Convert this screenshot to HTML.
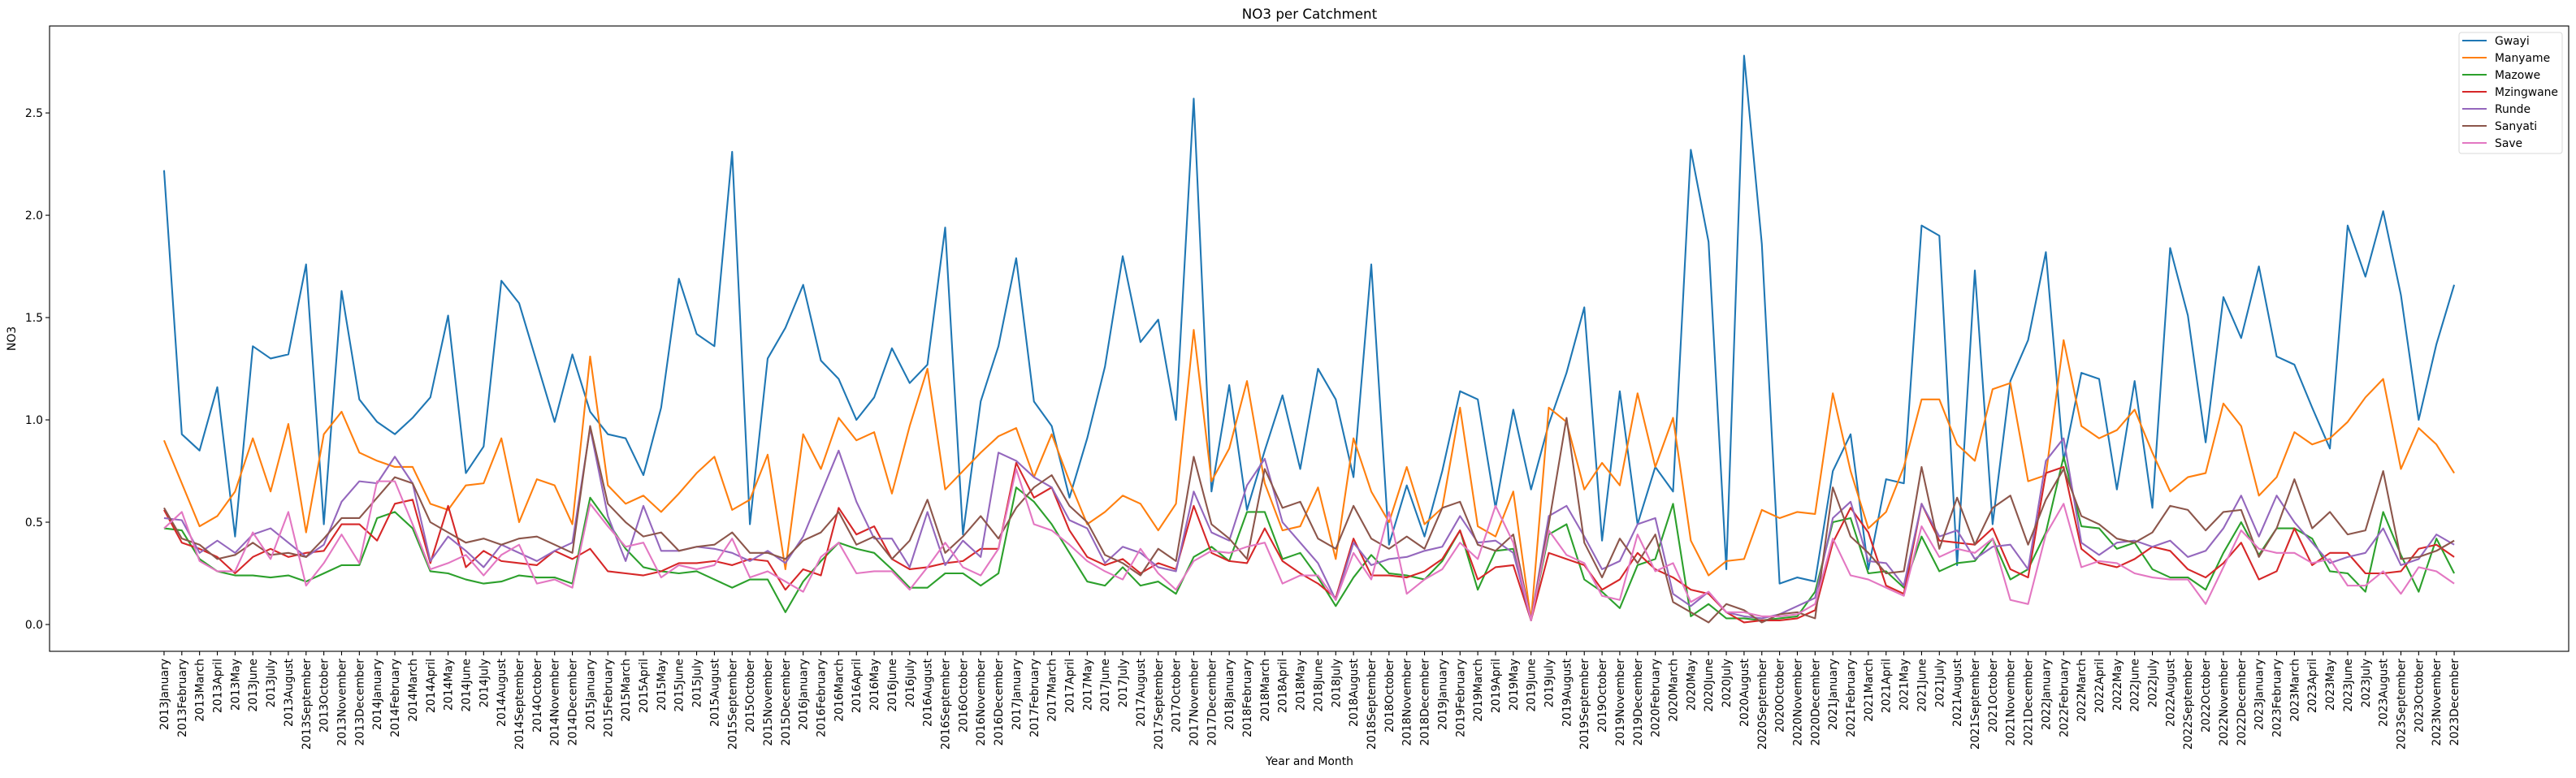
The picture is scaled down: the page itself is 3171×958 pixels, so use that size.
<!DOCTYPE html>
<html><head><meta charset="utf-8"><title>NO3 per Catchment</title>
<style>
html,body{margin:0;padding:0;background:#fff;}
svg text{font-family:"DejaVu Sans","Liberation Sans",sans-serif;fill:#000;}
</style></head>
<body>
<svg id="chart" width="3171" height="953" viewBox="0 0 3171 953" xmlns="http://www.w3.org/2000/svg">
<rect x="0" y="0" width="3171" height="953" fill="#fff"/>
<text x="1612" y="23" text-anchor="middle" font-size="16.7">NO3 per Catchment</text>
<g id="plot"></g>
<text x="1612" y="942" text-anchor="middle" font-size="13.9">Year and Month</text>
<text transform="translate(19,417) rotate(-90)" text-anchor="middle" font-size="13.9">NO3</text>
</svg>
<script>
const categories = ["2013January","2013February","2013March","2013April","2013May","2013June","2013July","2013August","2013September","2013October","2013November","2013December",
"2014January","2014February","2014March","2014April","2014May","2014June","2014July","2014August","2014September","2014October","2014November","2014December",
"2015January","2015February","2015March","2015April","2015May","2015June","2015July","2015August","2015September","2015October","2015November","2015December",
"2016January","2016February","2016March","2016April","2016May","2016June","2016July","2016August","2016September","2016October","2016November","2016December",
"2017January","2017February","2017March","2017April","2017May","2017June","2017July","2017August","2017September","2017October","2017November","2017December",
"2018January","2018February","2018March","2018April","2018May","2018June","2018July","2018August","2018September","2018October","2018November","2018December",
"2019January","2019February","2019March","2019April","2019May","2019June","2019July","2019August","2019September","2019October","2019November","2019December",
"2020February","2020March","2020May","2020June","2020July","2020August","2020September","2020October","2020November","2020December",
"2021January","2021February","2021March","2021April","2021May","2021June","2021July","2021August","2021September","2021October","2021November","2021December",
"2022January","2022February","2022March","2022April","2022May","2022June","2022July","2022August","2022September","2022October","2022November","2022December",
"2023January","2023February","2023March","2023April","2023May","2023June","2023July","2023August","2023September","2023October","2023November","2023December"];

const gwayi = [2.22,0.93,0.85,1.16,0.43,1.36,1.30,1.32,1.76,0.49,1.63,1.10,0.99,0.93,1.01,1.11,1.51,0.74,0.87,1.68,1.57,1.28,0.99,1.32,1.04,0.93,0.91,0.73,
1.06,1.69,1.42,1.36,2.31,0.49,1.30,1.45,1.66,1.29,1.20,1.00,1.11,1.35,1.18,1.27,1.94,0.44,1.09,1.36,1.79,1.09,0.97,0.62,0.91,1.26,1.80,1.38,
1.49,1.00,2.57,0.65,1.17,0.56,0.85,1.12,0.76,1.25,1.10,0.72,1.76,0.39,0.68,0.43,0.75,1.14,1.10,0.57,1.05,0.66,0.98,1.23,1.55,0.41,1.14,0.49,
0.77,0.65,2.32,1.87,0.27,2.78,1.86,0.20,0.23,0.21,0.75,0.93,0.27,0.71,0.69,1.95,1.90,0.29,1.73,0.49,1.19,1.39,1.82,0.80,1.23,1.20,0.66,1.19,
0.57,1.84,1.51,0.89,1.60,1.40,1.75,1.31,1.27,1.06,0.86,1.95,1.70,2.02,1.61,1.00,1.37,1.66];
const manyame = [0.90,0.69,0.48,0.53,0.65,0.91,0.65,0.98,0.45,0.93,1.04,0.84,0.80,0.77,0.77,0.59,0.56,0.68,0.69,0.91,0.50,0.71,0.68,0.49,1.31,0.68,0.59,0.63,
0.55,0.64,0.74,0.82,0.56,0.61,0.83,0.27,0.93,0.76,1.01,0.90,0.94,0.64,0.97,1.25,0.66,0.75,0.84,0.92,0.96,0.72,0.93,0.70,0.49,0.55,0.63,0.59,
0.46,0.59,1.44,0.70,0.86,1.19,0.69,0.46,0.48,0.67,0.32,0.91,0.65,0.50,0.77,0.49,0.57,1.06,0.48,0.43,0.65,0.02,1.06,0.99,0.66,0.79,0.68,1.13,
0.77,1.01,0.41,0.24,0.31,0.32,0.56,0.52,0.55,0.54,1.13,0.75,0.47,0.55,0.77,1.10,1.10,0.88,0.80,1.15,1.18,0.70,0.73,1.39,0.97,0.91,0.95,1.05,
0.84,0.65,0.72,0.74,1.08,0.97,0.63,0.72,0.94,0.88,0.91,0.99,1.11,1.20,0.76,0.96,0.88,0.74];
const mazowe = [0.47,0.46,0.32,0.26,0.24,0.24,0.23,0.24,0.21,0.25,0.29,0.29,0.52,0.55,0.47,0.26,0.25,0.22,0.20,0.21,0.24,0.23,0.23,0.20,0.62,0.50,0.37,0.28,
0.26,0.25,0.26,0.22,0.18,0.22,0.22,0.06,0.21,0.31,0.40,0.37,0.35,0.27,0.18,0.18,0.25,0.25,0.19,0.25,0.67,0.60,0.49,0.35,0.21,0.19,0.28,0.19,
0.21,0.15,0.33,0.38,0.31,0.55,0.55,0.32,0.35,0.23,0.09,0.23,0.34,0.25,0.24,0.22,0.31,0.46,0.17,0.36,0.37,0.02,0.44,0.49,0.22,0.16,0.08,0.29,
0.32,0.59,0.04,0.10,0.03,0.03,0.02,0.03,0.04,0.16,0.50,0.52,0.25,0.26,0.18,0.43,0.26,0.30,0.31,0.42,0.22,0.27,0.45,0.82,0.48,0.47,0.37,0.40,
0.27,0.23,0.23,0.17,0.35,0.50,0.34,0.47,0.47,0.42,0.26,0.25,0.16,0.55,0.34,0.16,0.42,0.25];
const mzingwane = [0.56,0.40,0.37,0.33,0.25,0.33,0.37,0.33,0.35,0.36,0.49,0.49,0.41,0.59,0.61,0.30,0.58,0.28,0.36,0.31,0.30,0.29,0.36,0.32,0.37,0.26,0.25,0.24,
0.26,0.30,0.30,0.31,0.29,0.32,0.31,0.17,0.27,0.24,0.57,0.44,0.48,0.32,0.27,0.28,0.30,0.31,0.37,0.37,0.79,0.62,0.67,0.46,0.33,0.29,0.32,0.25,
0.30,0.27,0.58,0.35,0.31,0.30,0.47,0.31,0.25,0.20,0.13,0.42,0.24,0.24,0.23,0.26,0.32,0.46,0.22,0.28,0.29,0.02,0.35,0.32,0.29,0.17,0.22,0.35,
0.27,0.23,0.17,0.15,0.06,0.01,0.02,0.02,0.03,0.07,0.40,0.57,0.45,0.19,0.15,0.59,0.41,0.40,0.39,0.47,0.27,0.23,0.74,0.77,0.37,0.30,0.28,0.32,
0.38,0.36,0.27,0.23,0.30,0.40,0.22,0.26,0.47,0.29,0.35,0.35,0.25,0.25,0.26,0.37,0.39,0.33];
const runde = [0.52,0.51,0.35,0.41,0.35,0.44,0.47,0.40,0.33,0.39,0.60,0.70,0.69,0.82,0.69,0.31,0.43,0.36,0.28,0.39,0.35,0.31,0.36,0.40,0.96,0.53,0.31,0.58,
0.36,0.36,0.38,0.37,0.35,0.31,0.36,0.30,0.43,0.64,0.85,0.60,0.42,0.42,0.28,0.55,0.29,0.41,0.33,0.84,0.80,0.72,0.67,0.51,0.47,0.30,0.38,0.35,
0.28,0.26,0.65,0.45,0.41,0.68,0.81,0.50,0.40,0.30,0.12,0.40,0.29,0.32,0.33,0.36,0.38,0.53,0.40,0.41,0.35,0.02,0.53,0.58,0.43,0.27,0.31,0.49,
0.52,0.15,0.09,0.16,0.06,0.04,0.03,0.05,0.09,0.13,0.52,0.60,0.31,0.30,0.19,0.59,0.43,0.46,0.32,0.38,0.39,0.27,0.80,0.91,0.40,0.34,0.40,0.41,
0.38,0.41,0.33,0.36,0.47,0.63,0.43,0.63,0.50,0.40,0.30,0.33,0.35,0.47,0.29,0.32,0.44,0.39];
const sanyati = [0.57,0.42,0.39,0.32,0.34,0.40,0.34,0.35,0.33,0.42,0.52,0.52,0.62,0.72,0.69,0.50,0.45,0.40,0.42,0.39,0.42,0.43,0.39,0.35,0.97,0.59,0.50,0.43,
0.45,0.36,0.38,0.39,0.45,0.35,0.35,0.32,0.41,0.45,0.55,0.39,0.43,0.32,0.41,0.61,0.35,0.43,0.53,0.42,0.57,0.67,0.73,0.58,0.50,0.34,0.30,0.24,
0.37,0.31,0.82,0.49,0.42,0.32,0.76,0.57,0.60,0.42,0.37,0.58,0.42,0.37,0.43,0.37,0.57,0.60,0.39,0.36,0.44,0.02,0.49,1.01,0.40,0.23,0.42,0.30,
0.44,0.11,0.06,0.01,0.10,0.07,0.01,0.05,0.06,0.03,0.67,0.43,0.35,0.25,0.26,0.77,0.37,0.62,0.39,0.57,0.63,0.39,0.61,0.76,0.53,0.49,0.42,0.40,
0.45,0.58,0.56,0.46,0.55,0.56,0.33,0.47,0.71,0.47,0.55,0.44,0.46,0.75,0.32,0.33,0.36,0.41];
const save = [0.47,0.55,0.31,0.26,0.26,0.45,0.32,0.55,0.19,0.30,0.44,0.30,0.70,0.70,0.49,0.27,0.30,0.34,0.24,0.34,0.39,0.20,0.22,0.18,0.59,0.48,0.38,0.40,
0.23,0.29,0.27,0.29,0.42,0.23,0.26,0.21,0.16,0.33,0.40,0.25,0.26,0.26,0.17,0.28,0.40,0.28,0.24,0.37,0.76,0.49,0.46,0.39,0.31,0.26,0.22,0.37,
0.25,0.17,0.31,0.36,0.35,0.38,0.40,0.20,0.24,0.24,0.12,0.35,0.22,0.55,0.15,0.22,0.27,0.40,0.32,0.58,0.40,0.02,0.46,0.34,0.30,0.14,0.12,0.44,
0.26,0.30,0.11,0.16,0.06,0.06,0.04,0.04,0.05,0.10,0.42,0.24,0.22,0.18,0.14,0.48,0.33,0.37,0.35,0.42,0.12,0.10,0.44,0.59,0.28,0.31,0.30,0.25,
0.23,0.22,0.22,0.10,0.28,0.46,0.37,0.35,0.35,0.30,0.32,0.19,0.19,0.26,0.15,0.28,0.26,0.20];

const seriesNames = ["Gwayi","Manyame","Mazowe","Mzingwane","Runde","Sanyati","Save"];
const seriesValues = [gwayi, manyame, mazowe, mzingwane, runde, sanyati, save];
const yTickValues = [0.0, 0.5, 1.0, 1.5, 2.0, 2.5];
const yTickLabels = ["0.0","0.5","1.0","1.5","2.0","2.5"];

const colors = ["#1f77b4","#ff7f0e","#2ca02c","#d62728","#9467bd","#8c564b","#e377c2"];
const NS = "http://www.w3.org/2000/svg";
const L = 61, R = 3162, T = 32, B = 802;
const yMin = -0.131, yMax = 2.925;
const n = categories.length;
const xPad = 0.05 * (n - 1);
function xScale(i){ return L + (i + xPad) / ((n - 1) + 2 * xPad) * (R - L); }
function yScale(v){ return B - (v - yMin) / (yMax - yMin) * (B - T); }

const plot = document.getElementById('plot');
function mk(tag, attrs){ const e = document.createElementNS(NS, tag); for (const k in attrs) e.setAttribute(k, attrs[k]); return e; }

// series
seriesValues.forEach((vals, s) => {
  const pts = vals.map((v, i) => xScale(i).toFixed(2) + "," + yScale(v).toFixed(2)).join(" ");
  const pl = mk('polyline', {points: pts, fill: 'none', stroke: colors[s], 'stroke-width': 2.1, 'stroke-linejoin': 'round'});
  
  
  plot.appendChild(pl);
});

// frame
const frame = mk('rect', {x: L, y: T, width: R - L, height: B - T, fill: 'none', stroke: '#000', 'stroke-width': 1.1});


plot.appendChild(frame);

// y ticks
yTickValues.forEach((v, k) => {
  const y = yScale(v);
  const t = mk('line', {x1: L - 5, x2: L, y1: y, y2: y, stroke: '#000', 'stroke-width': 1.1});
  
  
  plot.appendChild(t);
  const tx = mk('text', {x: L - 8, y: y + 5, 'text-anchor': 'end', 'font-size': 13.9});
  tx.textContent = yTickLabels[k];
  
  
  plot.appendChild(tx);
});

// x ticks
categories.forEach((c, i) => {
  const x = xScale(i);
  const t = mk('line', {x1: x, x2: x, y1: B, y2: B + 5, stroke: '#000', 'stroke-width': 1.1});
  
  
  plot.appendChild(t);
  const tx = mk('text', {transform: 'translate(' + (x + 5).toFixed(2) + ',' + (B + 9) + ') rotate(-90)', 'text-anchor': 'end', 'font-size': 13.9});
  tx.textContent = c;
  
  
  plot.appendChild(tx);
});

// legend
const lg = mk('g', {});


const box = mk('rect', {x: 3027, y: 40, width: 127, height: 149, rx: 3, fill: '#fff', 'fill-opacity': 0.8, stroke: '#d9d9d9', 'stroke-width': 1});


lg.appendChild(box);
seriesNames.forEach((nm, s) => {
  const y = 50 + s * 21;
  const ln = mk('line', {x1: 3031, x2: 3061, y1: y, y2: y, stroke: colors[s], 'stroke-width': 2.1});
  
  
  lg.appendChild(ln);
  const tx = mk('text', {x: 3071, y: y + 5, 'font-size': 13.9});
  tx.textContent = nm;
  
  
  lg.appendChild(tx);
});
plot.appendChild(lg);
</script>
</body></html>
